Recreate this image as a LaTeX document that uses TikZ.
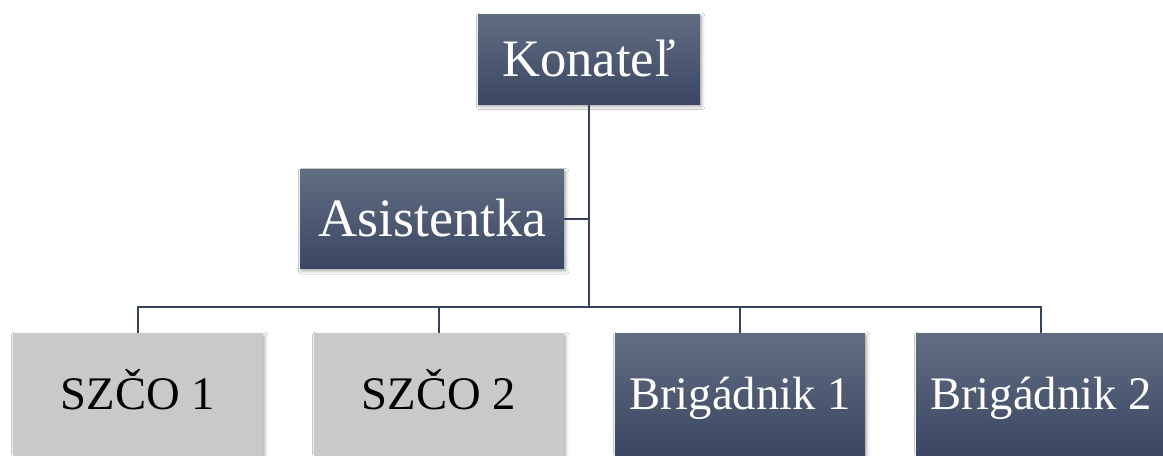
\documentclass[tikz,border=0pt]{standalone}
\usepackage{fontspec}
\setmainfont{Liberation Serif}
\usetikzlibrary{shadows.blur}
\definecolor{boxtop}{HTML}{606D81}
\definecolor{boxbot}{HTML}{3B4763}
\definecolor{graybox}{HTML}{C9C9C9}
\definecolor{conncol}{HTML}{36425A}
\tikzset{
  darkbox/.style={rectangle, inner sep=0pt, text depth=0pt, top color=boxtop, bottom color=boxbot, text=white,
    blur shadow={shadow xshift=1.2pt, shadow yshift=-1.8pt, shadow blur steps=6, shadow opacity=35, shadow blur radius=2.5pt}},
  greybox/.style={rectangle, inner sep=0pt, text depth=0pt, fill=graybox, text=black,
    blur shadow={shadow xshift=1.2pt, shadow yshift=-1.8pt, shadow blur steps=6, shadow opacity=35, shadow blur radius=2.5pt}},
  lowbox/.style={minimum width=250*0.75pt, minimum height=123*0.75pt, text height=23.1pt, font=\fontsize{35}{40}\selectfont},
  conn/.style={draw=conncol, line width=1.9pt}
}
\begin{document}
\begin{tikzpicture}[x=0.75pt, y=-0.75pt]
\useasboundingbox (0,0) rectangle (1163,455);
\clip (0,0) rectangle (1163,455);
\fill[white] (0,0) rectangle (1163,455);
\coordinate (bus) at (589,307);
\node[darkbox, minimum width=222*0.75pt, minimum height=90*0.75pt, text height=26.1pt, font=\fontsize{39.5}{45}\selectfont] (k) at (589,59) {Konateľ};
\node[darkbox, minimum width=264*0.75pt, minimum height=99*0.75pt, text height=26.7pt, font=\fontsize{40.5}{46}\selectfont] (a) at (432,219) {Asistentka};
\node[greybox, lowbox] (s1) at (138,394.5) {SZČO 1};
\node[greybox, lowbox] (s2) at (439,394.5) {SZČO 2};
\node[darkbox, lowbox] (b1) at (740,394.5) {Brigádnik 1};
\node[darkbox, lowbox] (b2) at (1041,394.5) {Brigádnik 2};
\draw[conn] (k.south) -- (bus);
\draw[conn] (a.east) -- (a.east -| bus);
\draw[conn] (s1.north) |- (bus) -| (b2.north);
\draw[conn] (s2.north) -- (s2.north |- bus);
\draw[conn] (b1.north) -- (b1.north |- bus);
\end{tikzpicture}
\end{document}
